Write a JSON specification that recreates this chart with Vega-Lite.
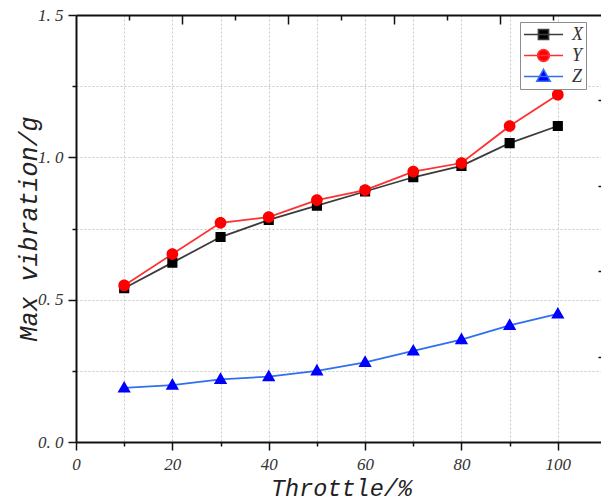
{
  "$schema": "https://vega.github.io/schema/vega-lite/v6.json",
  "autosize": "none",
  "padding": {"left": 76, "top": 15, "right": 0, "bottom": 62},
  "width": 530,
  "height": 427,
  "background": "white",
  "config": {
    "view": {"stroke": null},
    "axis": {
      "domainColor": "#111111",
      "domainWidth": 2,
      "tickColor": "#111111",
      "tickWidth": 1.5,
      "labelFont": "Liberation Serif",
      "labelFontStyle": "italic",
      "labelFontSize": 17,
      "labelColor": "#333333",
      "titleFont": "Liberation Mono",
      "titleFontStyle": "italic",
      "titleFontWeight": "normal",
      "titleColor": "#222222",
      "gridColor": "#c8c8c8",
      "gridDash": [2, 2],
      "gridWidth": 1
    }
  },
  "data": {
    "values": [
      {"throttle": 10, "series": "X", "value": 0.54},
      {"throttle": 20, "series": "X", "value": 0.63},
      {"throttle": 30, "series": "X", "value": 0.72},
      {"throttle": 40, "series": "X", "value": 0.78},
      {"throttle": 50, "series": "X", "value": 0.83},
      {"throttle": 60, "series": "X", "value": 0.88},
      {"throttle": 70, "series": "X", "value": 0.93},
      {"throttle": 80, "series": "X", "value": 0.97},
      {"throttle": 90, "series": "X", "value": 1.05},
      {"throttle": 100, "series": "X", "value": 1.11},
      {"throttle": 10, "series": "Y", "value": 0.55},
      {"throttle": 20, "series": "Y", "value": 0.66},
      {"throttle": 30, "series": "Y", "value": 0.77},
      {"throttle": 40, "series": "Y", "value": 0.79},
      {"throttle": 50, "series": "Y", "value": 0.85},
      {"throttle": 60, "series": "Y", "value": 0.885},
      {"throttle": 70, "series": "Y", "value": 0.95},
      {"throttle": 80, "series": "Y", "value": 0.98},
      {"throttle": 90, "series": "Y", "value": 1.11},
      {"throttle": 100, "series": "Y", "value": 1.22},
      {"throttle": 10, "series": "Z", "value": 0.19},
      {"throttle": 20, "series": "Z", "value": 0.2},
      {"throttle": 30, "series": "Z", "value": 0.22},
      {"throttle": 40, "series": "Z", "value": 0.23},
      {"throttle": 50, "series": "Z", "value": 0.25},
      {"throttle": 60, "series": "Z", "value": 0.28},
      {"throttle": 70, "series": "Z", "value": 0.32},
      {"throttle": 80, "series": "Z", "value": 0.36},
      {"throttle": 90, "series": "Z", "value": 0.41},
      {"throttle": 100, "series": "Z", "value": 0.45}
    ]
  },
  "resolve": {"axis": {"x": "independent", "y": "independent"}},
  "layer": [
    {
      "mark": {"type": "line", "strokeWidth": 1.8},
      "encoding": {
        "x": {
          "field": "throttle", "type": "quantitative",
          "scale": {"domain": [0, 110], "nice": false, "zero": false},
          "axis": {
            "orient": "bottom",
            "title": "Throttle/%",
            "titleFontSize": 23.5,
            "titlePadding": 4,
            "values": [0, 10, 20, 30, 40, 50, 60, 70, 80, 90, 100],
            "labelExpr": "datum.value % 20 === 0 ? datum.label : ''",
            "tickSize": {"condition": {"test": "datum.value % 20 === 0", "value": 8}, "value": 4},
            "labelPadding": 6,
            "labelFlush": false,
            "grid": true
          }
        },
        "y": {
          "field": "value", "type": "quantitative",
          "scale": {"domain": [0, 1.5], "nice": false},
          "axis": {
            "orient": "left",
            "title": "Max vibration/g",
            "titleFontSize": 25,
            "titlePadding": -4,
            "values": [0, 0.25, 0.5, 0.75, 1, 1.25, 1.5],
            "labelExpr": "abs(datum.value * 2 - round(datum.value * 2)) < 0.001 ? replace(format(datum.value, '.1f'), '.', '. ') : ''",
            "tickSize": {"condition": {"test": "abs(datum.value * 2 - round(datum.value * 2)) < 0.001", "value": 8}, "value": 4},
            "labelPadding": 5,
            "labelFlush": false,
            "grid": true
          }
        },
        "color": {
          "field": "series", "type": "nominal",
          "scale": {"range": ["#3c3c3c", "#ff3030", "#2f6ff0"]},
          "legend": null
        }
      }
    },
    {
      "mark": {"type": "point", "filled": true, "opacity": 1, "strokeWidth": 0},
      "encoding": {
        "x": {"field": "throttle", "type": "quantitative", "axis": null},
        "y": {"field": "value", "type": "quantitative", "axis": null},
        "fill": {
          "field": "series", "type": "nominal",
          "scale": {"domain": ["X", "Y", "Z"], "range": ["#000000", "#ff0000", "#0000ff"]},
          "legend": {
            "title": null,
            "orient": "none",
            "legendX": 444,
            "legendY": 7,
            "strokeColor": "#8c8c8c",
            "fillColor": "white",
            "padding": 3,
            "rowPadding": 2,
            "clipHeight": 19,
            "symbolSize": 1521,
            "symbolStrokeWidth": 1.6,
            "labelFont": "Liberation Serif",
            "labelFontStyle": "italic",
            "labelFontSize": 18,
            "labelColor": "#333333",
            "labelOffset": 8,
            "encode": {
              "symbols": {
                "strokeWidth": {"value": 1.6}
              }
            }
          }
        },
        "stroke": {
          "field": "series", "type": "nominal",
          "scale": {"domain": ["X", "Y", "Z"], "range": ["#3c3c3c", "#ff3030", "#2f6ff0"]}
        },
        "shape": {
          "field": "series", "type": "nominal",
          "scale": {
            "domain": ["X", "Y", "Z"],
            "range": [
              "M-1,0H1M-0.26,-0.26H0.26V0.26H-0.26Z",
              "M-1,0H1M0.3,0A0.3,0.3,0,1,1,-0.3,0A0.3,0.3,0,1,1,0.3,0Z",
              "M-1,0H1M0,-0.36L0.34,0.24H-0.34Z"
            ]
          }
        },
        "size": {"value": 1521}
      }
    },
    {
      "mark": {"type": "point", "opacity": 0},
      "encoding": {
        "x": {
          "field": "throttle", "type": "quantitative",
          "axis": {
            "orient": "top",
            "title": null,
            "labels": false,
            "grid": false,
            "values": [11, 22, 33, 44, 55, 66, 77, 88, 99, 110],
            "tickSize": {"condition": {"test": "datum.value % 22 === 0", "value": -9}, "value": -5}
          }
        },
        "y": {
          "field": "value", "type": "quantitative",
          "axis": {
            "orient": "right",
            "title": null,
            "labels": false,
            "grid": false,
            "values": [0.3, 0.6, 0.9, 1.2],
            "tickSize": -8
          }
        }
      }
    }
  ]
}
